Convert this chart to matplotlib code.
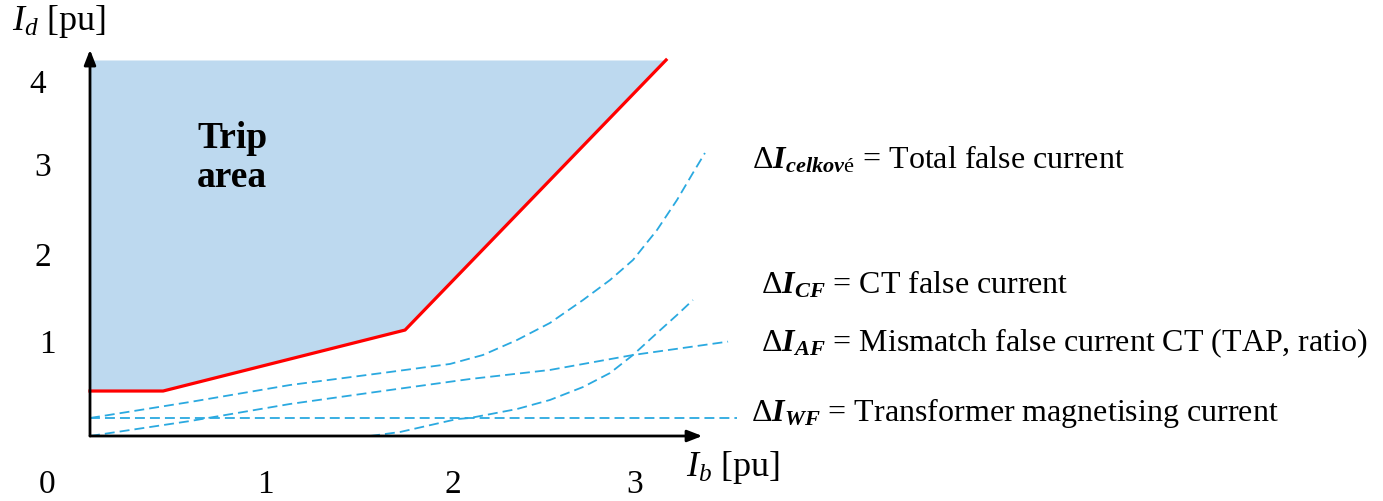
import numpy as np
import matplotlib.pyplot as plt

plt.rcParams['mathtext.fontset'] = 'custom'
plt.rcParams['mathtext.rm'] = 'Liberation Serif'
plt.rcParams['mathtext.it'] = 'Liberation Serif:italic'
plt.rcParams['mathtext.bf'] = 'Liberation Serif:bold'
plt.rcParams['mathtext.bfit'] = 'Liberation Serif:italic:bold'
plt.rcParams['font.family'] = ['Liberation Serif', 'DejaVu Serif']

W, H = 1383, 501

# tripping characteristic (Ib, Id) in pu
trip_ib = [0.0, 0.395, 1.703, 3.114]
trip_id = [0.517, 0.517, 1.218, 4.322]

# false current curves
total_ib = [0.0, 0.541, 1.081, 1.622, 1.946, 2.124, 2.308, 2.486, 2.665, 2.811,
            2.935, 3.065, 3.173, 3.259, 3.324]
total_id = [0.207, 0.391, 0.586, 0.736, 0.828, 0.931, 1.103, 1.299, 1.563, 1.793,
            2.023, 2.368, 2.713, 3.023, 3.253]
cf_ib = [1.514, 1.676, 1.984, 2.054, 2.308, 2.486, 2.665, 2.811, 2.935, 3.065,
         3.173, 3.259]
cf_id = [0.0, 0.046, 0.195, 0.207, 0.310, 0.414, 0.563, 0.724, 0.931, 1.184,
         1.391, 1.563]
af_ib = [0.0, 0.541, 1.081, 1.622, 2.054, 2.486, 2.935, 3.449]
af_id = [0.0, 0.172, 0.368, 0.529, 0.655, 0.759, 0.931, 1.085]
wf_ib = [0.0, 3.497]
wf_id = [0.207, 0.207]

x_ticks = ['0', '1', '2', '3']
y_ticks = ['1', '2', '3', '4']

fig = plt.figure(figsize=(W / 100, H / 100), dpi=100)
ax = fig.add_axes([0, 0, 1, 1])
ax.set_xlim(-90 / 185, (W - 90) / 185)
ax.set_ylim(-(H - 436) / 87, 436 / 87)
ax.axis('off')

ax.fill_between(trip_ib, trip_id, max(trip_id), color='#bdd9ef', lw=0, zorder=1)
ax.plot(trip_ib, trip_id, color='#ff0000', lw=2.3, zorder=4)

dash = dict(color='#2aa9e0', lw=1.3, ls=(0, (5.5, 2.8)), zorder=3)
ax.plot(total_ib, total_id, **dash)
ax.plot(cf_ib, cf_id, **dash)
ax.plot(af_ib, af_id, **dash)
ax.plot(wf_ib, wf_id, **dash)

arrow = dict(arrowstyle='-|>,head_length=0.9,head_width=0.35', color='black', lw=2, shrinkA=0, shrinkB=0)
ax.annotate('', xy=(3.31, 0), xytext=(0, 0), arrowprops=arrow, zorder=5)
ax.annotate('', xy=(0, 4.44), xytext=(0, 0), arrowprops=arrow, zorder=5)


def px(x, y, s, **kw):
    fig.text(x / W, 1 - y / H, s, **kw)


fs = 24
for s, (x, y) in zip(x_ticks, [(47, 485), (265, 485), (453, 485), (635, 485)]):
    px(x, y, s, fontsize=fs, ha='center', va='center')
for s, (x, y) in zip(y_ticks, [(47, 345), (43, 258), (43, 168), (38, 85)]):
    px(x, y, s, fontsize=fs, ha='center', va='center')

px(12, 22, r'$I_d$ [pu]', fontsize=26, ha='left', va='center')
px(686, 468, r'$I_b$ [pu]', fontsize=26, ha='left', va='center')
px(232, 158, 'Trip\narea', fontsize=27, fontweight='bold', ha='center', va='center',
   linespacing=1.15)

lfs = 23
px(752, 160, r'$\Delta\mathbfit{I}_{\mathbfit{celkov}\mathrm{é}}$ = Total false current',
   fontsize=lfs, ha='left', va='center')
px(761, 285, r'$\Delta\mathbfit{I}_{\mathbfit{CF}}$ = CT false current',
   fontsize=lfs, ha='left', va='center')
px(761, 343, r'$\Delta\mathbfit{I}_{\mathbfit{AF}}$ = Mismatch false current CT (TAP, ratio)',
   fontsize=lfs, ha='left', va='center')
px(751, 413, r'$\Delta\mathbfit{I}_{\mathbfit{WF}}$ = Transformer magnetising current',
   fontsize=lfs, ha='left', va='center')

fig.savefig('out.png', dpi=100)
